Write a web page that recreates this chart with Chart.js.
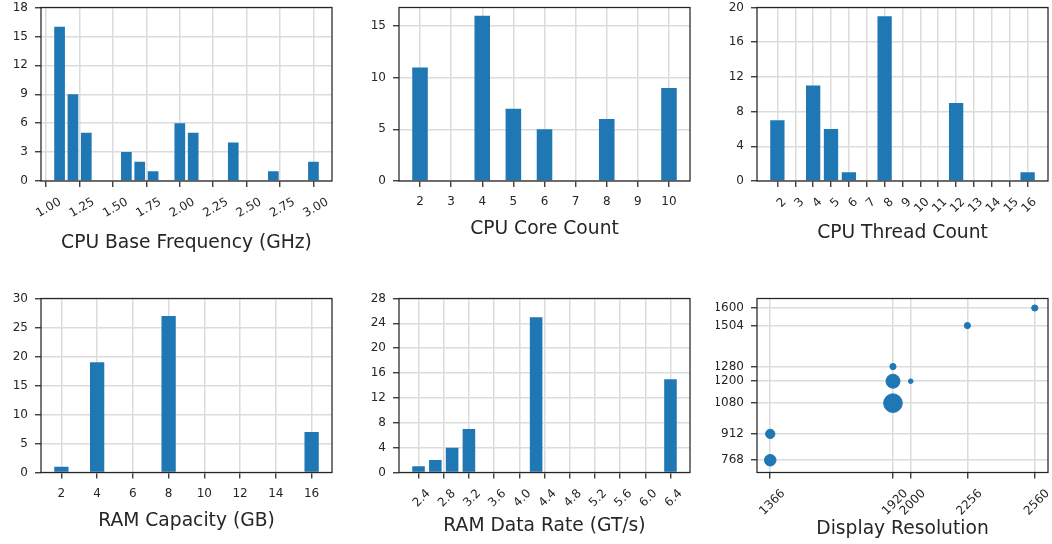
<!DOCTYPE html>
<html>
<head>
<meta charset="utf-8">
<script src="https://cdn.jsdelivr.net/npm/chart.js@4.4.0/dist/chart.umd.min.js"></script>
<style>
  html, body { margin: 0; padding: 0; background: #fff; overflow: hidden; }
  #wrap { position: relative; width: 1052px; height: 544px; }
  canvas { position: absolute; }
</style>
</head>
<body>
<div id="wrap">
  <canvas id="freq" width="345" height="275" style="left:0px;top:0px"></canvas>
  <canvas id="cores" width="345" height="275" style="left:358px;top:0px"></canvas>
  <canvas id="threads" width="336" height="275" style="left:716px;top:0px"></canvas>
  <canvas id="ram" width="345" height="264" style="left:0px;top:280px"></canvas>
  <canvas id="rate" width="345" height="264" style="left:358px;top:280px"></canvas>
  <canvas id="res" width="336" height="264" style="left:716px;top:280px"></canvas>
</div>
<script>
// --- data ---
var freqGHz = [1.1, 1.2, 1.3, 1.6, 1.7, 1.8, 2.0, 2.1, 2.4, 2.7, 3.0];
var freqCount = [16, 9, 5, 3, 2, 1, 6, 5, 4, 1, 2];
var freqTicks = [1.0, 1.25, 1.5, 1.75, 2.0, 2.25, 2.5, 2.75, 3.0];
var freqYTicks = [0, 3, 6, 9, 12, 15, 18];

var coreVals = [2, 4, 5, 6, 8, 10];
var coreCount = [11, 16, 7, 5, 6, 9];
var coreTicks = [2, 3, 4, 5, 6, 7, 8, 9, 10];
var coreYTicks = [0, 5, 10, 15];

var threadVals = [2, 4, 5, 6, 8, 12, 16];
var threadCount = [7, 11, 6, 1, 19, 9, 1];
var threadTicks = [2, 3, 4, 5, 6, 7, 8, 9, 10, 11, 12, 13, 14, 15, 16];
var threadYTicks = [0, 4, 8, 12, 16, 20];

var ramGB = [2, 4, 8, 16];
var ramCount = [1, 19, 27, 7];
var ramTicks = [2, 4, 6, 8, 10, 12, 14, 16];
var ramYTicks = [0, 5, 10, 15, 20, 25, 30];

var rateGT = [2.4, 2.667, 2.933, 3.2, 4.267, 6.4];
var rateCount = [1, 2, 4, 7, 25, 15];
var rateTicks = [2.4, 2.8, 3.2, 3.6, 4.0, 4.4, 4.8, 5.2, 5.6, 6.0, 6.4];
var rateYTicks = [0, 4, 8, 12, 16, 20, 24, 28];

var resW = [1366, 1366, 1920, 1920, 1920, 2000, 2256, 2560];
var resH = [768, 912, 1080, 1200, 1280, 1200, 1504, 1600];
var resCount = [8, 5, 22, 12, 2, 1, 2, 2];
var resXTicks = [1366, 1920, 2000, 2256, 2560];
var resYTicks = [768, 912, 1080, 1200, 1280, 1504, 1600];

// --- look ---
Chart.defaults.font.family = "'DejaVu Sans', sans-serif";
Chart.defaults.color = '#262626';

var blue = '#1f77b4';
var ink = '#262626';
var gridCol = '#dcdcdc';
var titleSize = 18.7;

// matplotlib-style box around the plot area
var frame = {
  id: 'frame',
  afterDraw: function (chart) {
    var a = chart.chartArea, c = chart.ctx;
    c.save();
    c.strokeStyle = ink;
    c.lineWidth = 1.25;
    c.strokeRect(a.left, a.top, a.right - a.left, a.bottom - a.top);
    c.restore();
  }
};

// height of the x axis box so the title lands at titleY
function xHeight(o) {
  return o.titleY - o.bottom + titleSize * 1.2 / 2;
}

function axes(o) {
  var xH = xHeight(o);
  return {
    x: {
      type: 'linear', min: o.xMin, max: o.xMax, offset: false,
      afterBuildTicks: function (s) { s.ticks = o.xTicks.map(function (v) { return {value: v}; }); },
      afterFit: function (s) { s.height = xH; s.paddingLeft = 0; s.paddingRight = 0; },
      grid: {color: gridCol, lineWidth: 1.5, offset: false, tickLength: 6, tickColor: ink, tickWidth: 1.25},
      border: {display: false},
      ticks: {
        autoSkip: false, minRotation: o.rot || 0, maxRotation: o.rot || 0,
        labelOffset: o.labelOff || 0, padding: 8, color: ink, font: {size: 12},
        callback: o.xFmt || function (v) { return String(v); }
      },
      title: {display: true, text: o.xTitle, color: ink, font: {size: titleSize}, padding: 0}
    },
    y: {
      type: 'linear', min: o.yMin, max: o.yMax,
      afterBuildTicks: function (s) { s.ticks = o.yTicks.map(function (v) { return {value: v}; }); },
      afterFit: function (s) { s.width = 41; s.paddingTop = 0; s.paddingBottom = 0; },
      grid: {color: gridCol, lineWidth: 1.5, tickLength: 6, tickColor: ink, tickWidth: 1.25},
      border: {display: false},
      ticks: {padding: 7, color: ink, font: {size: 12}, callback: function (v) { return String(v); }}
    }
  };
}

function layoutFor(o, canvasH) {
  return {
    autoPadding: false,
    padding: {top: o.top, right: o.right, left: 0, bottom: canvasH - o.bottom - xHeight(o)}
  };
}

function barChart(id, xs, ys, barPct, o, canvasH) {
  return new Chart(document.getElementById(id), {
    type: 'bar',
    data: {
      datasets: [{
        data: xs.map(function (v, i) { return {x: v, y: ys[i]}; }),
        backgroundColor: blue,
        borderWidth: 0,
        barPercentage: barPct,
        categoryPercentage: 1.0
      }]
    },
    options: {
      responsive: false, animation: false,
      layout: layoutFor(o, canvasH),
      plugins: {legend: {display: false}, tooltip: {enabled: false}},
      scales: axes(o)
    },
    plugins: [frame]
  });
}

var chartFreq = barChart('freq', freqGHz, freqCount, 0.8, {
  top: 7.5, bottom: 181, right: 13, titleY: 243.5,
  xMin: 0.961, xMax: 3.139, xTicks: freqTicks, rot: 30, labelOff: 14,
  xFmt: function (v) { return v.toFixed(2); },
  xTitle: 'CPU Base Frequency (GHz)',
  yMin: 0, yMax: 18, yTicks: freqYTicks
}, 275);

var chartCores = barChart('cores', coreVals, coreCount, 0.5, {
  top: 7.5, bottom: 181, right: 13, titleY: 229.2,
  xMin: 1.325, xMax: 10.675, xTicks: coreTicks,
  xTitle: 'CPU Core Count',
  yMin: 0, yMax: 16.8, yTicks: coreYTicks
}, 275);

var chartThreads = barChart('threads', threadVals, threadCount, 0.8, {
  top: 7.5, bottom: 181, right: 4, titleY: 233,
  xMin: 0.86, xMax: 17.14, xTicks: threadTicks, rot: 45, labelOff: 7,
  xTitle: 'CPU Thread Count',
  yMin: 0, yMax: 20, yTicks: threadYTicks
}, 275);

var chartRam = barChart('ram', ramGB, ramCount, 0.4, {
  top: 18.5, bottom: 192.5, right: 13, titleY: 240.7,
  xMin: 0.86, xMax: 17.14, xTicks: ramTicks,
  xTitle: 'RAM Capacity (GB)',
  yMin: 0, yMax: 30, yTicks: ramYTicks
}, 264);

var chartRate = barChart('rate', rateGT, rateCount, 0.75, {
  top: 18.5, bottom: 192.5, right: 13, titleY: 245.7,
  xMin: 2.09, xMax: 6.71, xTicks: rateTicks, rot: 45, labelOff: 10,
  xFmt: function (v) { return v.toFixed(1); },
  xTitle: 'RAM Data Rate (GT/s)',
  yMin: 0, yMax: 28, yTicks: rateYTicks
}, 264);

var resOpts = {
  top: 18.5, bottom: 192.5, right: 4, titleY: 249,
  xMin: 1306.3, xMax: 2619.7, xTicks: resXTicks, rot: 45, labelOff: 13,
  xTitle: 'Display Resolution',
  yMin: 701, yMax: 1652, yTicks: resYTicks
};
var chartRes = new Chart(document.getElementById('res'), {
  type: 'scatter',
  data: {
    datasets: [{
      data: resW.map(function (w, i) { return {x: w, y: resH[i]}; }),
      backgroundColor: blue,
      borderColor: blue,
      borderWidth: 1,
      pointRadius: function (ctx) { return 1.9 * Math.sqrt(resCount[ctx.dataIndex]) + 0.4; }
    }]
  },
  options: {
    responsive: false, animation: false,
    layout: layoutFor(resOpts, 264),
    plugins: {legend: {display: false}, tooltip: {enabled: false}},
    scales: axes(resOpts)
  },
  plugins: [frame]
});
</script>
</body>
</html>
